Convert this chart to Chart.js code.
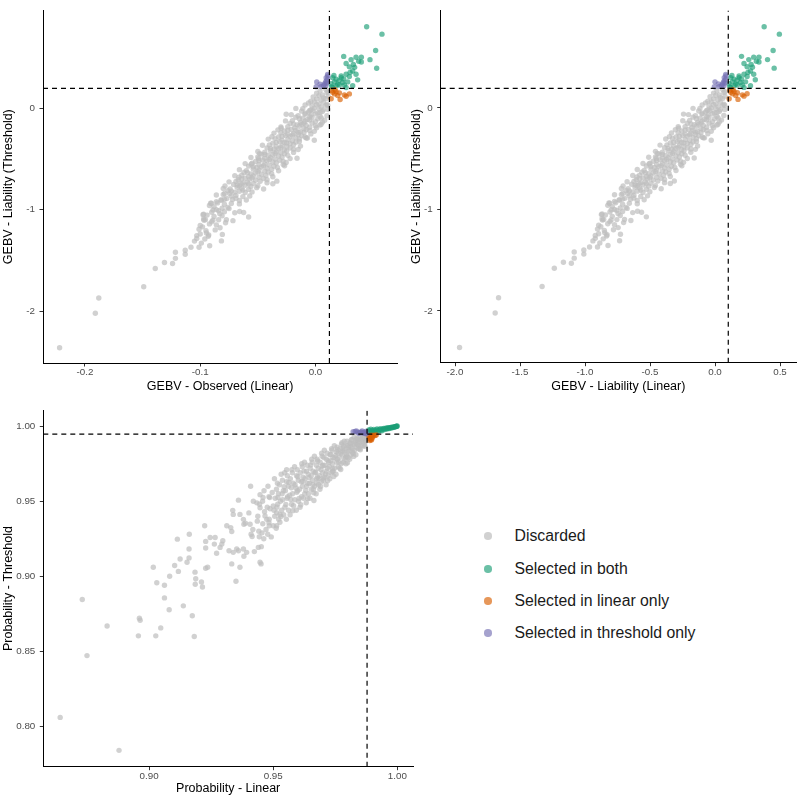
<!DOCTYPE html>
<html>
<head>
<meta charset="utf-8">
<script src="https://cdn.jsdelivr.net/npm/chart.js@4.4.1/dist/chart.umd.min.js"></script>
<style>
  body { margin: 0; background: #fff; font-family: "Liberation Sans", Arial, sans-serif; }
  #page { position: relative; width: 800px; height: 800px; overflow: hidden; }
  canvas { position: absolute; }
  #legend { position: absolute; left: 0; top: 0; }
  .key { position: absolute; left: 484px; height: 20px; display: flex; align-items: center; white-space: nowrap; }
  .key .dot { flex: 0 0 auto; width: 7.5px; height: 7.5px; border-radius: 50%; display: inline-block; }
  .key .lab { margin-left: 23px; font-size: 15.8px; color: #1a1a1a; }
</style>
</head>
<body>
<div id="page">
  <canvas id="p1" width="400" height="400" style="left:0;top:0"></canvas>
  <canvas id="p2" width="400" height="400" style="left:400px;top:0"></canvas>
  <canvas id="p3" width="420" height="400" style="left:0;top:400px"></canvas>
  <div id="legend"></div>
</div>
<script>
// groups, in the order the legend lists them
const groupLabels = ['Discarded', 'Selected in both', 'Selected in linear only', 'Selected in threshold only'];
const groupFills = ['rgba(190,190,190,0.7)', 'rgba(27,158,119,0.65)', 'rgba(217,95,2,0.65)', 'rgba(117,112,179,0.65)'];

// selection cut-offs (dashed lines)
const obsCut = 0.0121, liabCut = 0.102, thrCut = 0.193;
const probLinCut = 0.9878, probThrCut = 0.9947;

// tick labels
const obsTicks = [-0.2, -0.1, 0.0];
const liabTicks = [-2.0, -1.5, -1.0, -0.5, 0.0, 0.5];
const thrTicks = [-2, -1, 0];
const probLinTicks = [0.90, 0.95, 1.00];
const probThrTicks = [0.80, 0.85, 0.90, 0.95, 1.00];

// top panels: [GEBV observed (linear), GEBV liability (linear), GEBV liability (threshold)]
const topDiscarded = [
  [0.004,0.015,0.170],[0.009,0.059,0.182],[0.011,0.076,0.160],
  [0.001,-0.011,0.146],[0.006,0.033,0.128],[0.010,0.068,0.152],
  [-0.002,-0.038,0.110],[0.003,0.006,0.122],[0.007,0.041,0.100],[0.011,0.076,0.116],
  [-0.004,-0.055,0.066],[0.001,-0.011,0.089],[0.005,0.024,0.080],[0.009,0.059,0.092],
  [-0.006,-0.073,0.050],[-0.001,-0.029,0.062],[0.003,0.006,0.040],[0.007,0.041,0.056],[0.010,0.068,0.036],
  [-0.009,-0.099,0.029],[-0.003,-0.046,0.020],[0.001,-0.011,0.032],[0.005,0.024,0.010],[0.009,0.059,0.026],
  [-0.011,-0.116,-0.006],[-0.005,-0.064,-0.024],[-0.001,-0.029,-0.001],[0.003,0.006,-0.010],[0.007,0.041,-0.018],
  [-0.012,-0.125,-0.031],[-0.006,-0.073,-0.040],[-0.002,-0.038,-0.028],[0.002,-0.003,-0.050],[0.006,0.033,-0.034],
  [-0.015,-0.151,-0.076],[-0.009,-0.099,-0.061],[-0.004,-0.055,-0.070],[0.000,-0.020,-0.058],[0.004,0.015,-0.084],
  [-0.017,-0.169,-0.091],[-0.011,-0.116,-0.100],[-0.007,-0.081,-0.112],[-0.003,-0.046,-0.094],[0.002,-0.003,-0.106],[0.008,0.050,-0.120],
  [-0.020,-0.195,-0.124],[-0.013,-0.134,-0.142],[-0.009,-0.099,-0.130],[-0.005,-0.064,-0.118],[0.000,-0.020,-0.136],
  [-0.022,-0.213,-0.151],[-0.016,-0.160,-0.166],[-0.012,-0.125,-0.160],[-0.008,-0.090,-0.172],[-0.003,-0.046,-0.148],[0.004,0.015,-0.168],
  [-0.024,-0.230,-0.184],[-0.018,-0.178,-0.196],[-0.014,-0.143,-0.180],[-0.010,-0.108,-0.202],[-0.005,-0.064,-0.190],
  [-0.027,-0.256,-0.226],[-0.021,-0.204,-0.212],[-0.017,-0.169,-0.220],[-0.013,-0.134,-0.232],[-0.008,-0.090,-0.214],[-0.001,-0.029,-0.230],
  [-0.030,-0.283,-0.244],[-0.024,-0.230,-0.258],[-0.019,-0.186,-0.250],[-0.015,-0.151,-0.262],[-0.010,-0.108,-0.241],
  [-0.032,-0.300,-0.286],[-0.026,-0.248,-0.271],[-0.022,-0.213,-0.280],[-0.017,-0.169,-0.292],[-0.012,-0.125,-0.274],
  [-0.035,-0.326,-0.301],[-0.029,-0.274,-0.318],[-0.024,-0.230,-0.310],[-0.020,-0.195,-0.322],[-0.014,-0.143,-0.304],[-0.007,-0.081,-0.295],
  [-0.037,-0.344,-0.346],[-0.031,-0.291,-0.332],[-0.027,-0.256,-0.340],[-0.022,-0.213,-0.351],[-0.017,-0.169,-0.336],
  [-0.040,-0.370,-0.364],[-0.034,-0.318,-0.378],[-0.029,-0.274,-0.370],[-0.025,-0.239,-0.382],[-0.019,-0.186,-0.361],
  [-0.042,-0.388,-0.392],[-0.036,-0.335,-0.404],[-0.032,-0.300,-0.400],[-0.027,-0.256,-0.412],[-0.022,-0.213,-0.394],[-0.015,-0.151,-0.408],
  [-0.044,-0.405,-0.436],[-0.039,-0.361,-0.421],[-0.034,-0.318,-0.430],[-0.030,-0.283,-0.441],[-0.025,-0.239,-0.424],
  [-0.047,-0.431,-0.454],[-0.041,-0.379,-0.468],[-0.037,-0.344,-0.460],[-0.032,-0.300,-0.472],[-0.027,-0.256,-0.451],
  [-0.050,-0.458,-0.482],[-0.044,-0.405,-0.494],[-0.039,-0.361,-0.490],[-0.035,-0.326,-0.502],[-0.029,-0.274,-0.484],[-0.022,-0.213,-0.498],
  [-0.052,-0.475,-0.526],[-0.046,-0.423,-0.511],[-0.042,-0.388,-0.520],[-0.037,-0.344,-0.531],[-0.031,-0.291,-0.514],
  [-0.055,-0.501,-0.544],[-0.049,-0.449,-0.558],[-0.044,-0.405,-0.550],[-0.040,-0.370,-0.562],[-0.034,-0.318,-0.541],
  [-0.058,-0.528,-0.572],[-0.051,-0.466,-0.586],[-0.047,-0.431,-0.580],[-0.042,-0.388,-0.592],[-0.036,-0.335,-0.574],
  [-0.060,-0.545,-0.616],[-0.054,-0.493,-0.601],[-0.049,-0.449,-0.610],[-0.044,-0.405,-0.621],[-0.038,-0.353,-0.604],
  [-0.062,-0.563,-0.634],[-0.056,-0.510,-0.648],[-0.052,-0.475,-0.640],[-0.047,-0.431,-0.652],[-0.041,-0.379,-0.631],
  [-0.064,-0.580,-0.662],[-0.058,-0.528,-0.676],[-0.054,-0.493,-0.670],[-0.049,-0.449,-0.682],[-0.043,-0.396,-0.664],
  [-0.067,-0.606,-0.706],[-0.061,-0.554,-0.691],[-0.057,-0.519,-0.700],[-0.052,-0.475,-0.711],[-0.045,-0.414,-0.694],
  [-0.069,-0.624,-0.724],[-0.063,-0.571,-0.738],[-0.059,-0.536,-0.730],[-0.054,-0.493,-0.742],[-0.048,-0.440,-0.721],
  [-0.071,-0.641,-0.752],[-0.066,-0.598,-0.766],[-0.061,-0.554,-0.760],[-0.056,-0.510,-0.772],
  [-0.074,-0.668,-0.796],[-0.068,-0.615,-0.781],[-0.064,-0.580,-0.790],[-0.058,-0.528,-0.801],[-0.051,-0.466,-0.784],
  [-0.076,-0.685,-0.814],[-0.070,-0.633,-0.828],[-0.066,-0.598,-0.820],[-0.061,-0.554,-0.832],
  [-0.080,-0.720,-0.852],[-0.073,-0.659,-0.866],[-0.069,-0.624,-0.860],[-0.063,-0.571,-0.872],
  [-0.082,-0.738,-0.906],[-0.077,-0.694,-0.891],[-0.072,-0.650,-0.900],[-0.066,-0.598,-0.911],
  [-0.085,-0.764,-0.934],[-0.079,-0.711,-0.948],[-0.073,-0.659,-0.940],
  [-0.088,-0.790,-0.972],[-0.081,-0.729,-0.986],[-0.076,-0.685,-0.980],
  [-0.090,-0.808,-1.026],[-0.084,-0.755,-1.011],[-0.079,-0.711,-1.020],[-0.070,-0.633,-1.031],
  [-0.094,-0.843,-1.054],[-0.088,-0.790,-1.068],[-0.081,-0.729,-1.060],
  [-0.097,-0.869,-1.092],[-0.089,-0.799,-1.104],[-0.084,-0.755,-1.100],
  [-0.100,-0.895,-1.156],[-0.092,-0.825,-1.141],[-0.086,-0.773,-1.150],
  [-0.101,-0.904,-1.194],[-0.095,-0.851,-1.208],
  [-0.103,-0.921,-1.256],[-0.093,-0.834,-1.262],[-0.103,-0.921,-1.285],[-0.096,-0.860,-1.290],
  [-0.0254,-0.242,-0.061],[-0.0378,-0.351,-0.283],[-0.0326,-0.305,-0.215],[-0.0297,-0.280,-0.199],
  [-0.0557,-0.507,-0.553],[-0.0494,-0.452,-0.498],[-0.0485,-0.444,-0.449],[-0.0664,-0.601,-0.681],
  [-0.0647,-0.586,-0.745],[-0.0785,-0.707,-0.768],[-0.0745,-0.672,-0.842],[-0.086,-0.773,-0.922],
  [-0.0903,-0.810,-0.938],[-0.0976,-0.874,-1.051],[-0.0955,-0.856,-1.099],[-0.0889,-0.798,-1.003],
  [-0.0816,-0.734,-0.907],[-0.0788,-0.710,-0.842],[0.0049,0.023,-0.160],[-0.008,-0.090,-0.295],
  [-0.0254,-0.242,-0.536],[-0.0268,-0.255,-0.569],[-0.0335,-0.313,-0.720],[-0.037,-0.344,-0.745],
  [-0.058,-0.528,-1.073],[-0.0623,-0.565,-1.028],[-0.0658,-0.596,-1.018],[-0.0716,-0.647,-1.109],
  [-0.0773,-0.696,-1.099],[-0.0816,-0.734,-1.308],[-0.0808,-0.727,-1.244],[-0.0828,-0.745,-1.179],
  [-0.0918,-0.823,-1.356],[-0.101,-0.904,-1.370],[-0.108,-0.965,-1.370],[-0.113,-1.009,-1.440],
  [-0.113,-1.009,-1.400],[-0.1215,-1.083,-1.480],[-0.1215,-1.083,-1.420],[-0.124,-1.105,-1.530],
  [-0.131,-1.166,-1.520],[-0.139,-1.236,-1.580],[-0.149,-1.330,-1.760],[-0.188,-1.665,-1.870],
  [-0.191,-1.691,-2.020],[-0.222,-1.965,-2.360],
  [-0.100,-0.895,-1.240],[-0.0946,-0.848,-1.230],[-0.0926,-0.830,-1.250],[-0.0967,-0.866,-1.105],
  [-0.097,-0.869,-1.045],[0.0107,0.074,0.026],
  // band edges
  [-0.017,-0.169,-0.004],[0.011,0.076,-0.015],[-0.021,-0.204,-0.066],[0.010,0.068,-0.075],
  [-0.026,-0.248,-0.127],[0.006,0.033,-0.139],[-0.030,-0.283,-0.186],[0.001,-0.011,-0.195],
  [-0.036,-0.335,-0.247],[-0.004,-0.055,-0.255],[-0.041,-0.379,-0.306],[-0.001,-0.029,-0.318],
  [-0.046,-0.423,-0.366],[-0.013,-0.134,-0.375],[-0.050,-0.458,-0.428],[-0.019,-0.186,-0.437],
  [-0.056,-0.510,-0.486],[-0.016,-0.160,-0.494],[-0.061,-0.554,-0.547],[-0.028,-0.265,-0.556],
  [-0.066,-0.598,-0.607],[-0.032,-0.300,-0.617],[-0.070,-0.633,-0.666],[-0.037,-0.344,-0.676],
  [-0.075,-0.676,-0.727],[-0.042,-0.388,-0.736],[-0.080,-0.720,-0.793],[-0.045,-0.414,-0.797],
  [-0.086,-0.773,-0.856],[-0.057,-0.519,-0.866],[-0.091,-0.816,-0.937],[-0.066,-0.598,-0.944],
  // between rows
  [-0.009,-0.099,-0.052],[-0.004,-0.055,-0.020],[0.004,0.015,-0.044],
  [-0.014,-0.143,-0.106],[-0.005,-0.064,-0.086],[0.005,0.024,-0.098],
  [-0.019,-0.186,-0.158],[-0.010,-0.108,-0.150],[0.000,-0.020,-0.176],
  [-0.024,-0.230,-0.218],[-0.015,-0.151,-0.238],[-0.005,-0.064,-0.222],
  [-0.029,-0.274,-0.278],[-0.020,-0.195,-0.265],[-0.009,-0.099,-0.286],
  [-0.034,-0.318,-0.338],[-0.025,-0.239,-0.345],[-0.014,-0.143,-0.330],
  [-0.039,-0.361,-0.398],[-0.030,-0.283,-0.388],[-0.019,-0.186,-0.405],
  [-0.044,-0.405,-0.458],[-0.035,-0.326,-0.448],[-0.024,-0.230,-0.466],
  [-0.049,-0.449,-0.518],[-0.040,-0.370,-0.508],[-0.028,-0.265,-0.525],
  [-0.054,-0.493,-0.578],[-0.045,-0.414,-0.568],[-0.033,-0.309,-0.586],
  [-0.059,-0.536,-0.638],[-0.050,-0.458,-0.628],[-0.038,-0.353,-0.646],
  [-0.064,-0.580,-0.698],[-0.055,-0.501,-0.688],[-0.042,-0.388,-0.705],
  [-0.068,-0.615,-0.758],[-0.058,-0.528,-0.748],[-0.050,-0.458,-0.765],
  [-0.073,-0.659,-0.818],[-0.063,-0.571,-0.808],[-0.055,-0.501,-0.826],
  [-0.079,-0.711,-0.898],[-0.069,-0.624,-0.888],[-0.060,-0.545,-0.905],
  [-0.092,-0.825,-0.960],[-0.086,-0.773,-1.000],[-0.075,-0.676,-0.990],[-0.083,-0.746,-1.040],
  [-0.078,-0.703,-1.130],[-0.090,-0.808,-1.120],[-0.098,-0.878,-1.170],[-0.087,-0.781,-1.200],
  [-0.105,-0.939,-1.310],[-0.099,-0.886,-1.330]
];
const topBoth = [
  [0.0444,0.378,0.800],[0.0577,0.495,0.727],[0.0522,0.447,0.566],[0.0531,0.455,0.392],
  [0.0473,0.404,0.476],[0.0398,0.338,0.500],[0.0352,0.298,0.500],[0.0398,0.338,0.453],
  [0.0245,0.204,0.508],[0.0309,0.260,0.476],[0.0266,0.223,0.438],[0.0329,0.278,0.428],
  [0.0294,0.247,0.405],[0.0375,0.318,0.460],[0.0323,0.273,0.364],[0.0352,0.298,0.332],
  [0.0366,0.310,0.277],[0.0294,0.247,0.309],[0.0266,0.223,0.332],[0.0223,0.185,0.315],
  [0.0236,0.197,0.251],[0.0179,0.147,0.284],[0.0193,0.159,0.235],[0.0165,0.134,0.257],
  [0.0150,0.121,0.299],[0.0223,0.185,0.299],[0.0280,0.235,0.257],[0.0323,0.273,0.219],
  [0.0150,0.121,0.202],[0.0179,0.147,0.219],[0.0208,0.172,0.226],[0.0251,0.210,0.226],
  [0.0266,0.223,0.202],[0.0135,0.108,0.240],[0.0140,0.113,0.210],[0.0205,0.169,0.270],
  [0.0245,0.204,0.285],[0.0300,0.253,0.350],[0.0160,0.130,0.320],[0.0340,0.288,0.400]
];
const topLinear = [
  [0.0150,0.121,0.154],[0.0179,0.147,0.161],[0.0208,0.172,0.149],[0.0193,0.159,0.122],
  [0.0165,0.134,0.139],[0.0136,0.109,0.091],[0.0214,0.177,0.084],[0.0266,0.223,0.116],
  [0.0294,0.247,0.139],[0.0251,0.210,0.129],[0.0140,0.113,0.175],[0.0170,0.139,0.180]
];
const topThreshold = [
  [0.0011,0.000,0.257],[0.0006,-0.005,0.209],[0.0049,0.033,0.212],[0.0078,0.058,0.235],
  [0.0093,0.071,0.267],[0.0107,0.084,0.315],[0.0093,0.071,0.299],[0.0105,0.082,0.283],
  [0.0070,0.051,0.219],[0.0100,0.078,0.245],[0.0090,0.069,0.219],[0.0040,0.025,0.235],
  [0.0105,0.082,0.330],[0.0085,0.064,0.250]
];

// bottom panel: [probability linear, probability threshold]
const probDiscarded = [
  [.8642,.8058],[.8879,.7838],[.8731,.8844],[.8750,.8470],[.8831,.8668],[.8957,.8602],[.8961,.8719],[.8964,.8706],
  [.9027,.8602],[.9047,.8655],[.9031,.8956],[.9017,.9060],[.9062,.8939],[.9062,.8855],[.9081,.8776],[.9083,.8999],
  [.9103,.9071],[.9114,.9247],[.9118,.9032],[.9125,.9115],[.9138,.8802],[.9174,.8736],[.9182,.8598],[.9161,.9181],
  [.9153,.9093],[.9161,.9122],[.9162,.9280],[.9185,.9027],[.9188,.8983],[.9186,.8946],[.9211,.8961],[.9215,.8928],
  [.9228,.9053],[.9236,.9060],[.9224,.9336],[.9228,.9232],[.9228,.9188],[.9246,.9258],[.9266,.9258],[.9263,.9214],
  [.9272,.9153],[.9286,.9192],[.9297,.9236],[.9293,.9214],[.9313,.9336],[.9329,.9324],[.9333,.9298],[.9322,.9170],
  [.9339,.9159],[.9353,.9181],[.9360,.9170],[.9380,.9181],[.9382,.9133],[.9393,.9159],[.9415,.9265],[.9444,.9263],
  [.9452,.9197],[.9440,.9192],[.9424,.9164],[.9411,.9280],[.9407,.9346],[.9382,.9346],[.9360,.9507],[.9337,.9439],
  [.9339,.9412],[.9366,.9412],[.9380,.9379],[.9388,.9353],[.9409,.9600],[.9420,.9500],[.9434,.9489],[.9447,.9544],
  [.9447,.9456],[.9467,.9402],[.9474,.9379],[.9483,.9357],[.9487,.9450],[.9500,.9468],[.9514,.9423],[.9527,.9412],
  [.9500,.9336],[.9514,.9336],[.9451,.9082],[.9350,.8966],[.9366,.9060],[.9333,.9082],
  [.9442,.930],[.9438,.940],[.9445,.948],
  [.9462,.925],[.9458,.935],[.9465,.943],[.9457,.950],[.9463,.957],
  [.9478,.928],[.9484,.938],[.9476,.946],[.9483,.953],[.9479,.960],
  [.9512,.932],[.9506,.940],[.9515,.946],[.9508,.952],[.9513,.958],[.9505,.965],
  [.9527,.936],[.9534,.944],[.9529,.950],[.9536,.955],[.9525,.961],[.9532,.968],
  [.9553,.938],[.9547,.946],[.9556,.952],[.9549,.957],[.9554,.963],[.9546,.969],
  [.9568,.941],[.9574,.948],[.9566,.954],[.9573,.959],[.9569,.965],[.9575,.971],
  [.9593,.944],[.9587,.951],[.9595,.956],[.9588,.961],[.9594,.967],[.9586,.973],
  [.9608,.946],[.9614,.953],[.9606,.958],[.9613,.963],[.9609,.969],[.9615,.975],
  [.9633,.949],[.9627,.955],[.9635,.960],[.9628,.965],[.9634,.970],[.9626,.976],
  [.9648,.952],[.9654,.958],[.9646,.962],[.9653,.967],[.9649,.972],[.9655,.978],
  [.9673,.955],[.9667,.960],[.9675,.965],[.9668,.969],[.9674,.974],[.9666,.980],
  [.9688,.958],[.9694,.963],[.9686,.967],[.9693,.971],[.9689,.976],[.9695,.982],
  [.9713,.961],[.9707,.966],[.9715,.970],[.9708,.974],[.9714,.978],[.9706,.984],
  [.9728,.965],[.9734,.969],[.9726,.973],[.9733,.977],[.9729,.981],[.9735,.985],
  [.9753,.968],[.9747,.972],[.9755,.976],[.9748,.979],[.9754,.983],[.9746,.987],
  [.9768,.972],[.9774,.975],[.9766,.979],[.9773,.982],[.9769,.985],[.9775,.988],
  [.9793,.975],[.9787,.978],[.9795,.981],[.9788,.984],[.9794,.987],[.9786,.990],
  [.9808,.978],[.9814,.981],[.9806,.984],[.9813,.986],[.9809,.989],[.9815,.991],
  [.9833,.981],[.9827,.984],[.9835,.986],[.9828,.988],[.9834,.991],[.9826,.993],
  [.9848,.985],[.9854,.987],[.9846,.989],[.9853,.991],[.9849,.993],
  [.9868,.988],[.9872,.990],[.9866,.992],[.9874,.994],
  [.9522,.938],[.9518,.948],[.9521,.955],[.9517,.962],
  [.9542,.941],[.9538,.951],[.9541,.957],[.9537,.964],
  [.9562,.944],[.9558,.953],[.9561,.960],[.9557,.967],
  [.9582,.947],[.9578,.955],[.9581,.962],[.9577,.969],
  [.9602,.950],[.9598,.957],[.9601,.964],[.9597,.971],
  [.9622,.952],[.9618,.960],[.9621,.966],[.9617,.973],
  [.9642,.955],[.9638,.962],[.9641,.968],[.9637,.974],
  [.9662,.958],[.9658,.964],[.9661,.970],[.9657,.976],
  [.9682,.961],[.9678,.966],[.9681,.972],[.9677,.978],
  [.9702,.964],[.9698,.969],[.9701,.974],[.9697,.980],
  [.9722,.967],[.9718,.972],[.9721,.977],[.9717,.982],
  [.9742,.970],[.9738,.975],[.9741,.979],[.9737,.984],
  [.9762,.973],[.9758,.978],[.9761,.982],[.9757,.986],
  [.9782,.976],[.9778,.981],[.9781,.985],[.9777,.989],
  [.9802,.979],[.9798,.983],[.9801,.987],[.9797,.990],
  [.9822,.982],[.9818,.985],[.9821,.988],[.9817,.991],
  [.9842,.985],[.9838,.988],[.9841,.990],[.9837,.992],
  [.9862,.987],[.9858,.990],[.9861,.993],
  [.9664,.9505],[.9738,.9699],[.9702,.9655],[.9675,.9622],[.9796,.9798],[.9554,.9710],[.9447,.9093],[.9484,.9336],
  [.9503,.9440],[.9519,.9525],[.9531,.9398],[.9544,.9597],[.9551,.9478],[.9563,.9625],[.9571,.9512],[.9579,.9437],
  [.9592,.9588],[.9599,.9663],[.9604,.9519],[.9611,.9476],[.9619,.9632],[.9624,.9701],[.9631,.9572],[.9639,.9518],
  [.9644,.9659],[.9651,.9741],[.9659,.9612],[.9663,.9556],[.9671,.9693],[.9679,.9768],[.9684,.9651],[.9691,.9598],
  [.9697,.9735],[.9704,.9792],[.9711,.9682],[.9719,.9637],[.9724,.9759],[.9731,.9812],[.9739,.9718],[.9744,.9665],
  [.9751,.9805],[.9759,.9843],[.9764,.9761],[.9772,.9712],[.9779,.9833],[.9784,.9868],[.9791,.9791],[.9799,.9756],
  [.9804,.9858],[.9811,.9886],[.9819,.9828],[.9824,.9799],[.9831,.9893],[.9839,.9912],[.9844,.9871],[.9851,.9843],
  [.9857,.9921],[.9863,.9896],[.9869,.9866],[.9876,.9928],[.9873,.9905],
  [.9402,.9422],[.9418,.9311],[.9436,.9367],[.9455,.9289],[.9471,.9311],[.9492,.9262],[.9486,.9524],[.9459,.9525],[.9496,.9558]
];
const probBoth = [
  [.9882,.9962],[.9885,.9975],[.9888,.9955],[.9890,.9968],[.9893,.9980],[.9896,.9960],[.9899,.9972],[.9902,.9966],
  [.9905,.9978],[.9908,.9970],[.9912,.9962],[.9915,.9976],[.9918,.9982],[.9922,.9972],[.9925,.9968],[.9928,.9979],
  [.9932,.9984],[.9935,.9975],[.9938,.9970],[.9942,.9982],[.9945,.9986],[.9948,.9978],[.9952,.9984],[.9955,.9988],
  [.9958,.9982],[.9961,.9987],[.9964,.9990],[.9967,.9985],[.9970,.9991],[.9973,.9988],[.9976,.9993],[.9979,.9990],
  [.9982,.9994],[.9985,.9996],[.9988,.9993],[.9991,.9997],[.9994,.9998],[.9996,.9999],[.9998,1.0000],[.9999,1.0002]
];
const probLinear = [
  [.9885,.9935],[.9890,.9925],[.9893,.9912],[.9888,.9918],[.9896,.9908],[.9900,.9930],
  [.9905,.9940],[.9895,.9940],[.9910,.9938],[.9889,.9905],[.9898,.9920],[.9915,.9942]
];
const probThreshold = [
  [.9822,.9963],[.9830,.9965],[.9840,.9960],[.9850,.9958],[.9855,.9962],[.9860,.9955],[.9865,.9957],
  [.9870,.9952],[.9875,.9950],[.9868,.9960],[.9845,.9953],[.9835,.9968],[.9872,.9965],[.9858,.9968]
];

const FONT = '"Liberation Sans", Arial, sans-serif';

function pts(rows, xi, yi) {
  return rows.map(r => ({ x: r[xi], y: r[yi] }));
}

function scatterPanel(id, o) {
  const datasets = o.groups.map((g, i) => ({
    label: groupLabels[i],
    data: g,
    order: 4 - i,
    pointRadius: 2.7,
    pointHoverRadius: 2.7,
    pointBorderWidth: 0,
    backgroundColor: groupFills[i],
    borderColor: groupFills[i]
  }));
  const dashed = data => ({
    data: data,
    showLine: true,
    order: 0,
    pointRadius: 0,
    borderColor: '#000',
    borderWidth: 1.2,
    borderDash: [5, 4]
  });
  datasets.push(dashed([{ x: o.xCut, y: o.yMin }, { x: o.xCut, y: o.yMax }]));
  datasets.push(dashed([{ x: o.xMin, y: o.yCut }, { x: o.xMax, y: o.yCut }]));

  const axis = (min, max, ticks, dec, title, titlePad, fit, pad) => ({
    type: 'linear',
    min: min,
    max: max,
    afterBuildTicks: s => { s.ticks = ticks.map(v => ({ value: v })); },
    afterFit: fit,
    grid: { drawOnChartArea: false, drawTicks: true, tickLength: 3.5, tickColor: '#333', tickWidth: 1 },
    border: { display: true, color: '#000', width: 1 },
    ticks: {
      autoSkip: false, maxRotation: 0, padding: pad, color: '#4d4d4d',
      font: { family: FONT, size: 9.8 },
      callback: v => v.toFixed(dec)
    },
    title: { display: true, text: title, color: '#000', font: { family: FONT, size: 12.5 }, padding: titlePad }
  });

  new Chart(document.getElementById(id), {
    type: 'scatter',
    data: { datasets: datasets },
    options: {
      responsive: false,
      animation: false,
      events: [],
      layout: { padding: { left: 0, top: o.padTop, right: o.padRight, bottom: 0 } },
      plugins: { legend: { display: false }, tooltip: { enabled: false } },
      scales: {
        x: axis(o.xMin, o.xMax, o.xTicks, o.xDec, o.xTitle, { top: 0, bottom: o.xTitlePad },
          s => { s.height = o.xH; }, 0),
        y: axis(o.yMin, o.yMax, o.yTicks, o.yDec, o.yTitle, { top: o.yTitlePad, bottom: 0 },
          s => { s.width = o.yW; }, 4.5)
      }
    }
  });
}

scatterPanel('p1', {
  groups: [pts(topDiscarded, 0, 2), pts(topBoth, 0, 2), pts(topLinear, 0, 2), pts(topThreshold, 0, 2)],
  xMin: -0.2364, xMax: 0.071, yMin: -2.51, yMax: 0.961,
  xTicks: obsTicks, xDec: 1, yTicks: thrTicks, yDec: 0,
  xCut: obsCut, yCut: thrCut,
  xTitle: 'GEBV - Observed (Linear)', yTitle: 'GEBV - Liability (Threshold)',
  xTitlePad: 5.5, yTitlePad: 1, xH: 37, yW: 43, padTop: 3, padRight: 2
});

scatterPanel('p2', {
  groups: [pts(topDiscarded, 1, 2), pts(topBoth, 1, 2), pts(topLinear, 1, 2), pts(topThreshold, 1, 2)],
  xMin: -2.11, xMax: 0.623, yMin: -2.51, yMax: 0.961,
  xTicks: liabTicks, xDec: 1, yTicks: thrTicks, yDec: 0,
  xCut: liabCut, yCut: thrCut,
  xTitle: 'GEBV - Liability (Linear)', yTitle: 'GEBV - Liability (Threshold)',
  xTitlePad: 5.8, yTitlePad: 9.2, xH: 37.3, yW: 40.7, padTop: 3, padRight: 4
});

scatterPanel('p3', {
  groups: [pts(probDiscarded, 0, 1), pts(probBoth, 0, 1), pts(probLinear, 0, 1), pts(probThreshold, 0, 1)],
  xMin: 0.8574, xMax: 1.0063, yMin: 0.7729, yMax: 1.0106,
  xTicks: probLinTicks, xDec: 2, yTicks: probThrTicks, yDec: 2,
  xCut: probLinCut, yCut: probThrCut,
  xTitle: 'Probability - Linear', yTitle: 'Probability - Threshold',
  xTitlePad: 3.5, yTitlePad: 1.5, xH: 33.3, yW: 43.3, padTop: 6.7, padRight: 7
});

// legend
const legendRows = [536, 569, 601, 633];
const legend = document.getElementById('legend');
groupLabels.forEach((lab, i) => {
  const row = document.createElement('div');
  row.className = 'key';
  row.style.top = (legendRows[i] - 10) + 'px';
  row.innerHTML = '<span class="dot" style="background:' + groupFills[i] + '"></span><span class="lab">' + lab + '</span>';
  legend.appendChild(row);
});
</script>
</body>
</html>
